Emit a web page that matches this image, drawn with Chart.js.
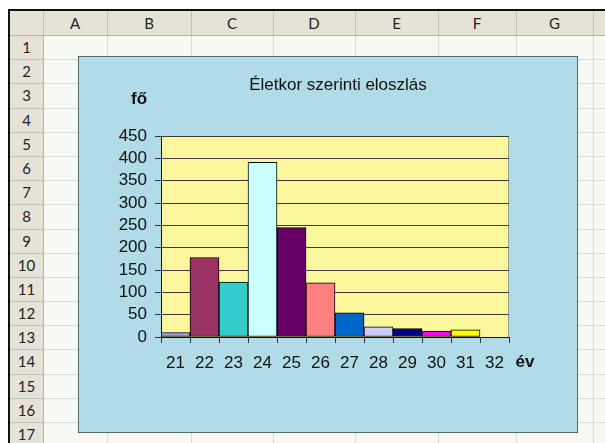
<!DOCTYPE html>
<html lang="hu">
<head>
<meta charset="utf-8">
<title>Életkor szerinti eloszlás</title>
<script src="https://cdn.jsdelivr.net/npm/chart.js@4/dist/chart.umd.min.js"></script>
<style>
  html, body { margin: 0; padding: 0; background: #ffffff; }
  body { width: 605px; height: 443px; position: relative; overflow: hidden; font-family: Lato, "Open Sans", sans-serif; }
  .abs { position: absolute; }
  .hdr { position: absolute; color: #222; font-size: 15px; text-align: center; line-height: 24px; }
  #chartBox { position: absolute; left: 78px; top: 56px; width: 500px; height: 377px; box-sizing: border-box;
              border: 1px solid #5c6670; background: #b0dce8; }
  #chartBox canvas { position: absolute; left: 0; top: 0; }
</style>
</head>
<body>
<div id="sheet"></div>
<div id="chartBox"><canvas id="chart" width="498" height="375"></canvas></div>
<script>
// Data
const ages = ['21', '22', '23', '24', '25', '26', '27', '28', '29', '30', '31', '32'];
const headcount = [10, 178, 123, 391, 245, 121, 54, 23, 19, 13, 16, 0];
const barColors = ['#9999ff', '#993366', '#33cccc', '#ccffff', '#660066', '#ff8080',
                   '#0066cc', '#ccccff', '#000080', '#ff00ff', '#ffff00', '#00ffff'];
const chartTitle = 'Életkor szerinti eloszlás';
const yUnit = 'fő';
const xUnit = 'év';

// Worksheet backdrop: column/row headers and cell grid
const colLetters = ['A', 'B', 'C', 'D', 'E', 'F', 'G', ''];
const colEdges = [43, 107, 191, 273, 355, 438, 516, 593, 680];
const rowTop = 35, rowH = 24.19, rowCount = 17;
const sheet = document.getElementById('sheet');
function box(l, t, w, h, bg, cls) {
  const d = document.createElement('div');
  d.className = cls || 'abs';
  d.style.left = l + 'px'; d.style.top = t + 'px';
  d.style.width = w + 'px'; d.style.height = h + 'px';
  if (bg) d.style.background = bg;
  sheet.appendChild(d);
  return d;
}
box(10, 11, 595, 432, '#f7f9f4');
box(10, 11, 595, rowTop - 11, '#e5e3d7');
box(10, 11, 33, 432, '#e5e3d7');
for (let i = 0; i < colEdges.length; i++) {
  box(colEdges[i], 11, 1, rowTop - 11, '#c4c1b2');
  box(colEdges[i], rowTop, 1, 443 - rowTop, i === 0 ? '#b9b6a8' : '#d9ddd8');
}
for (let r = 1; r <= rowCount; r++) {
  const y = Math.round(rowTop + rowH * r);
  box(10, y, 33, 1, '#c4c1b2');
  box(44, y, 561, 1, '#d9ddd8');
  const lab = box(10, Math.round(rowTop + rowH * (r - 1)), 33, 24, null, 'hdr');
  lab.textContent = r;
}
box(10, rowTop, 595, 1, '#b9b6a8');
for (let i = 0; i < colLetters.length - 1; i++) {
  const lab = box(colEdges[i], 11, colEdges[i + 1] - colEdges[i], 24, null, 'hdr');
  lab.textContent = colLetters[i];
}
box(8, 9, 597, 2, '#111');
box(8, 9, 2, 434, '#111');

// Plot area fill, border and axis captions
const decor = {
  id: 'decor',
  beforeDraw(chart) {
    const { ctx, chartArea: a } = chart;
    ctx.save();
    ctx.fillStyle = '#fcf79c';
    ctx.fillRect(a.left, a.top, a.right - a.left, a.bottom - a.top);
    ctx.strokeStyle = '#9a9a9a';
    ctx.lineWidth = 1;
    ctx.strokeRect(a.left + 0.5, a.top + 0.5, a.right - a.left - 1, a.bottom - a.top);
    ctx.restore();
  },
  afterDraw(chart) {
    const { ctx, chartArea: a } = chart;
    ctx.save();
    ctx.fillStyle = '#111';
    ctx.textAlign = 'center';
    ctx.textBaseline = 'middle';
    ctx.font = '17px "Liberation Sans", Arial, sans-serif';
    ctx.fillText(chartTitle, (a.left + a.right) / 2 + 3, a.top - 51);
    ctx.font = 'bold 17px "Liberation Sans", Arial, sans-serif';
    ctx.fillText(yUnit, a.left - 22, a.top - 37);
    ctx.fillText(xUnit, a.right + 16, a.bottom + 25);
    ctx.restore();
  }
};

const tickFont = { family: '"Liberation Sans", Arial, sans-serif', size: 17 };

new Chart(document.getElementById('chart'), {
  type: 'bar',
  data: {
    labels: ages,
    datasets: [{
      data: headcount,
      backgroundColor: barColors,
      borderColor: '#000',
      borderWidth: 1,
      borderSkipped: false,
      barPercentage: 1,
      categoryPercentage: 1
    }]
  },
  options: {
    responsive: false,
    animation: false,
    devicePixelRatio: 1,
    layout: { padding: { top: 79, left: 0, right: 68, bottom: 0 } },
    plugins: { legend: { display: false }, title: { display: false }, tooltip: { enabled: false } },
    scales: {
      x: {
        grid: { offset: true, drawOnChartArea: false, drawTicks: true, tickLength: 6, color: '#333', tickColor: '#333' },
        border: { display: true, color: '#111' },
        ticks: { color: '#111', font: tickFont, padding: 10, maxRotation: 0, autoSkip: false },
        afterFit(scale) { scale.height = 95; }
      },
      y: {
        min: 0, max: 450,
        grid: { color: '#3a3a3a', tickColor: '#333', tickLength: 6, lineWidth: 1 },
        border: { display: true, color: '#111' },
        ticks: { stepSize: 50, color: '#111', font: tickFont, padding: 8, autoSkip: false },
        afterFit(scale) { scale.width = 82; }
      }
    }
  },
  plugins: [decor]
});
</script>
</body>
</html>
